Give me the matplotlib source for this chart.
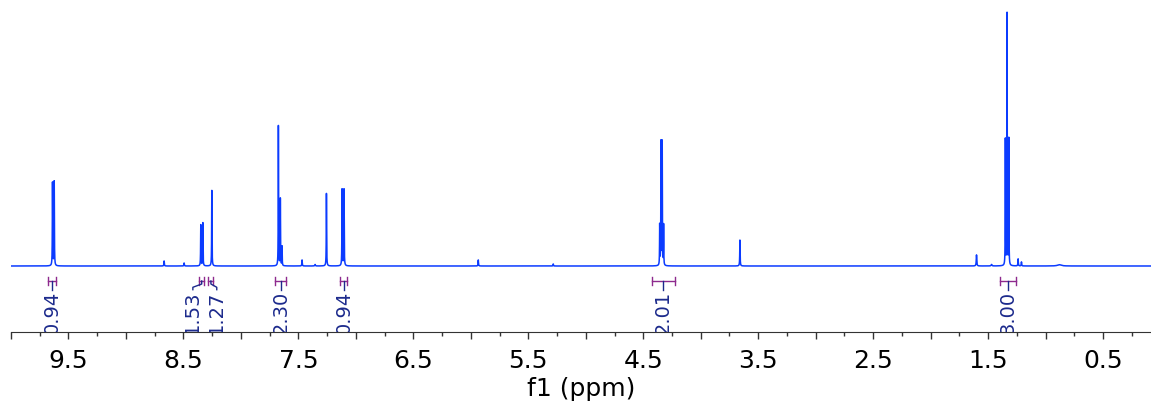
import numpy as np
import matplotlib.pyplot as plt
from matplotlib.ticker import MultipleLocator, FuncFormatter

# peak list (ppm, relative height, half width in ppm)
peak_ppm = [9.639, 9.624, 8.668, 8.494, 8.349, 8.331, 8.253,
            7.674, 7.657, 7.642, 7.468, 7.355, 7.256, 7.120, 7.103,
            5.935, 5.283, 4.357, 4.346, 4.335, 4.323, 3.659,
            1.601, 1.470, 1.350, 1.335, 1.320, 1.239, 1.210, 0.880]
peak_height = [0.330, 0.335, 0.020, 0.012, 0.163, 0.171, 0.300,
               0.556, 0.266, 0.077, 0.024, 0.006, 0.288, 0.304, 0.304,
               0.024, 0.008, 0.160, 0.490, 0.490, 0.160, 0.103,
               0.044, 0.006, 0.500, 1.000, 0.503, 0.028, 0.016, 0.005]
peak_width = [0.0016, 0.0016, 0.002, 0.002, 0.0016, 0.0016, 0.0016,
              0.0014, 0.0014, 0.0014, 0.002, 0.003, 0.0016, 0.0016, 0.0016,
              0.002, 0.002, 0.0014, 0.0014, 0.0014, 0.0014, 0.0018,
              0.0025, 0.004, 0.0013, 0.0013, 0.0013, 0.002, 0.002, 0.02]

# integrals: region start/end, label, label position
int_start = [9.676, 8.362, 8.283, 7.700, 7.135, 4.427, 1.395]
int_end = [9.606, 8.320, 8.239, 7.605, 7.075, 4.225, 1.260]
int_label = ['0.94', '1.53', '1.27', '2.30', '0.94', '2.01', '3.00']
int_text_ppm = [9.641, 8.418, 8.210, 7.652, 7.105, 4.326, 1.327]

line_color = '#0b3bff'
bracket_color = '#8e2a8e'
label_color = '#1c2a8c'

ppm = np.linspace(10.0, 0.0, 40001)
spec = np.zeros_like(ppm)
for p, h, w in zip(peak_ppm, peak_height, peak_width):
    spec += h / (1 + ((ppm - p) / w) ** 2)

fig = plt.figure(figsize=(11.51, 4.08), dpi=100)
ax = fig.add_axes([11 / 1151, 1 - 332 / 408, 1 - 11 / 1151, 327 / 408])
ax.plot(ppm, spec, color=line_color, lw=1.1)

ax.set_xlim(10.0, 0.083)
ax.set_ylim(-0.262, 1.036)

bracket_y = -0.0595
cap = 0.014
text_top = -0.098
for s, e, lab, tx in zip(int_start, int_end, int_label, int_text_ppm):
    ax.plot([s, e], [bracket_y, bracket_y], color=bracket_color, lw=1)
    ax.plot([s, s], [bracket_y - cap, bracket_y + cap], color=bracket_color, lw=1)
    ax.plot([e, e], [bracket_y - cap, bracket_y + cap], color=bracket_color, lw=1)
    mid = (s + e) / 2
    if abs(mid - tx) < 0.02:
        ax.plot([mid, mid], [bracket_y, text_top + 0.004], color=label_color, lw=1)
    else:
        ax.plot([mid, mid, tx, tx],
                [bracket_y, bracket_y - 0.012, bracket_y - 0.025, text_top + 0.004],
                color=label_color, lw=1)
    ax.text(tx, text_top, lab, rotation=90, ha='center', va='top',
            color=label_color, fontsize=14, clip_on=True)

for side in ['top', 'left', 'right']:
    ax.spines[side].set_visible(False)
ax.spines['bottom'].set_color('#333333')
ax.set_yticks([])

ax.xaxis.set_major_locator(MultipleLocator(0.5))
ax.xaxis.set_minor_locator(MultipleLocator(0.25))
ax.xaxis.set_major_formatter(FuncFormatter(
    lambda v, pos: f'{v:.1f}' if abs(v % 1 - 0.5) < 1e-6 else ''))
ax.tick_params(axis='x', which='major', length=5, width=1, color='#333333',
               labelsize=18, pad=7)
ax.tick_params(axis='x', which='minor', length=3, width=1, color='#333333')
ax.set_xlabel('f1 (ppm)', fontsize=18, labelpad=3)

fig.savefig('out.png', dpi=100)
